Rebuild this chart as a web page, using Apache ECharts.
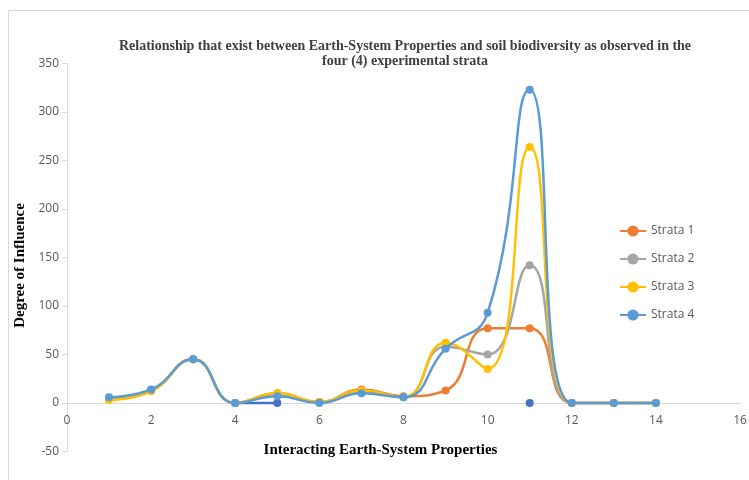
<!DOCTYPE html>
<html>
<head>
<meta charset="utf-8">
<script src="https://cdn.jsdelivr.net/npm/echarts@6/dist/echarts.min.js"></script>
<style>
  html, body { margin: 0; padding: 0; background: #fff; }
  #chart { width: 749px; height: 480px; }
</style>
</head>
<body>
<div id="chart"></div>
<script>
// Interacting earth-system properties (x) and degree of influence per stratum
const properties = [1, 2, 3, 4, 5, 6, 7, 8, 9, 10, 11, 12, 13, 14];
const strata1 = [4, 13, 45, 0, 10, 1, 14, 7, 13, 77, 77, 0, 0, 0];
const strata2 = [4, 13, 45, 0, 9, 1, 12, 6, 58, 50, 142, 0, 0, 0];
const strata3 = [3, 12, 45, 0, 10, 1, 13, 6, 62, 35, 264, 0, 0, 0];
const strata4 = [6, 14, 45, 0, 7, 0, 10, 6, 56, 93, 323, 0, 0, 0];
// Unlabelled reference points on the zero line ('-' breaks the line)
const extraX = [4, 5, 8, 11];
const extraY = [0, 0, '-', 0];

const seriesNames = ['Strata 1', 'Strata 2', 'Strata 3', 'Strata 4'];
const seriesColors = ['#ED7D31', '#A5A5A5', '#FFC000', '#5B9BD5'];
const yTicks = [-50, 0, 50, 100, 150, 200, 250, 300, 350];

const pairs = (xs, ys) => xs.map((x, i) => [x, ys[i]]);

const chart = echarts.init(document.getElementById('chart'), null, { renderer: 'canvas' });

const lineSeries = [strata1, strata2, strata3, strata4].map((vals, i) => ({
  name: seriesNames[i],
  type: 'line',
  data: pairs(properties, vals),
  smooth: 0.5,
  symbol: 'circle',
  symbolSize: 8,
  lineStyle: { width: 2.5, color: seriesColors[i] },
  itemStyle: { color: seriesColors[i] },
  z: 2 + i
}));

lineSeries.push({
  name: 'zero',
  type: 'line',
  data: pairs(extraX, extraY),
  connectNulls: false,
  symbol: 'circle',
  symbolSize: 8,
  lineStyle: { width: 2.5, color: '#4472C4' },
  itemStyle: { color: '#4472C4' },
  z: 1
});

chart.setOption({
  backgroundColor: '#ffffff',
  animation: false,
  title: {
    text: 'Relationship that exist between Earth-System Properties and soil biodiversity as observed in the\nfour (4) experimental strata',
    left: 400,
    top: 34,
    textAlign: 'center',
    textStyle: {
      fontFamily: 'Liberation Serif',
      fontWeight: 'bold',
      fontSize: 14,
      lineHeight: 15,
      color: '#404040'
    }
  },
  legend: {
    data: seriesNames,
    orient: 'vertical',
    left: 614,
    top: 220,
    itemWidth: 26,
    itemHeight: 14,
    itemGap: 16,
    textStyle: { fontFamily: 'Open Sans', fontSize: 12, color: '#595959' }
  },
  graphic: [{
    type: 'rect',
    shape: { x: 8.5, y: 10.5, width: 800, height: 500 },
    style: { fill: 'none', stroke: '#d9d9d9', lineWidth: 1 },
    silent: true
  }],
  grid: { left: 67, right: 9, top: 63.5, bottom: 28.5, containLabel: false, outerBoundsMode: 'none' },
  xAxis: {
    type: 'value',
    min: 0,
    max: 16,
    interval: 2,
    name: 'Interacting Earth-System Properties',
    nameLocation: 'middle',
    nameGap: 40,
    nameTextStyle: {
      fontFamily: 'Liberation Serif',
      fontWeight: 'bold',
      fontSize: 15,
      color: '#000',
      padding: [0, 46, 0, 0]
    },
    axisLine: { onZero: false, lineStyle: { color: '#d9d9d9', width: 1 } },
    axisTick: { show: false },
    axisLabel: { fontFamily: 'Open Sans', fontSize: 12, color: '#595959', margin: 12 },
    splitLine: { show: false }
  },
  yAxis: {
    type: 'value',
    min: yTicks[0],
    max: yTicks[yTicks.length - 1],
    interval: 50,
    name: 'Degree of Influence',
    nameLocation: 'middle',
    nameGap: 38,
    nameTextStyle: {
      fontFamily: 'Liberation Serif',
      fontWeight: 'bold',
      fontSize: 15,
      color: '#000',
      padding: [0, 16, 0, 0]
    },
    axisLine: { show: true, onZero: false, lineStyle: { color: '#d9d9d9', width: 1 } },
    axisTick: { show: true, inside: false, length: 5, lineStyle: { color: '#d9d9d9' } },
    axisLabel: { fontFamily: 'Open Sans', fontSize: 12, color: '#595959', margin: 8 },
    splitLine: { show: false }
  },
  series: lineSeries
});

// Lift the category axis (line, labels and name) up to the value-axis zero line
const zeroY = chart.convertToPixel({ yAxisIndex: 0 }, 0);
const floorY = chart.convertToPixel({ yAxisIndex: 0 }, yTicks[0]);
chart.setOption({ xAxis: { offset: zeroY - floorY } });
</script>
</body>
</html>
